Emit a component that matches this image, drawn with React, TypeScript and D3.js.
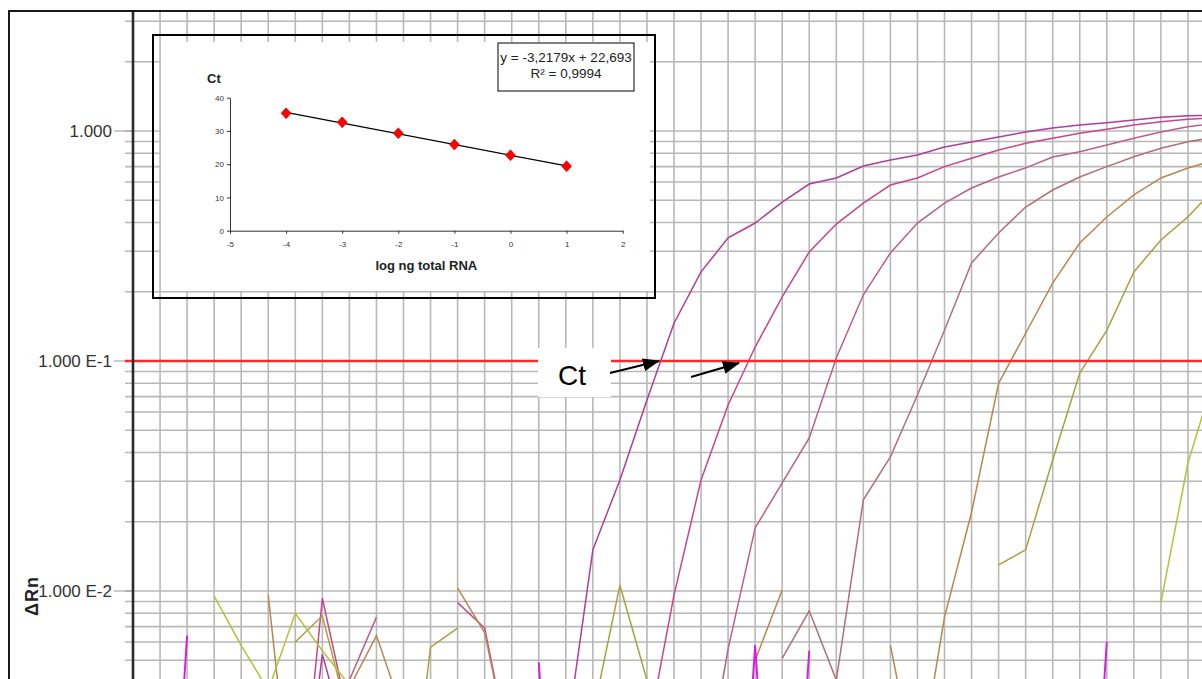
import React, { useEffect, useRef } from "react";
import * as d3 from "d3";

const W = 1202;
const H = 679;
const _ = null;

// Delta Rn per cycle (array index = cycle 0..40); null = not plotted (value <= 0 on log axis)
const run1 = [_, _, _, _, _, _, 0.0006, 0.0053, 0.002, _, _, _, _, _, _, _, 0.0022, 0.0151, 0.0304, 0.0677, 0.146, 0.244, 0.343, 0.398, 0.491, 0.588, 0.625, 0.704, 0.748, 0.787, 0.852, 0.896, 0.942, 0.99, 1.03, 1.062, 1.087, 1.117, 1.147, 1.166, 1.17];
const run2 = [_, _, _, _, _, _, 0.0006, 0.0093, 0.0027, _, _, _, 0.0089, 0.0069, 0.0018, _, _, _, _, 0.0023, 0.0096, 0.0304, 0.0644, 0.115, 0.19, 0.298, 0.394, 0.486, 0.582, 0.625, 0.7, 0.761, 0.827, 0.884, 0.93, 0.977, 1.017, 1.062, 1.098, 1.124, 1.14];
const run3 = [_, _, _, _, _, _, _, _, 0.0041, 0.0077, _, _, _, _, _, _, _, _, _, _, _, 0.0012, 0.0056, 0.0188, 0.0295, 0.0463, 0.103, 0.194, 0.295, 0.398, 0.486, 0.565, 0.631, 0.691, 0.771, 0.813, 0.869, 0.93, 0.99, 1.044, 1.08];
const run4 = [_, _, _, _, _, _, _, _, _, _, _, _, _, _, _, _, _, _, _, _, _, _, _, _, 0.0051, 0.0082, 0.0041, 0.0249, 0.0383, 0.0711, 0.136, 0.267, 0.36, 0.467, 0.554, 0.631, 0.7, 0.773, 0.841, 0.898, 0.94];
const run5 = [_, _, _, _, _, 0.0096, 0.0008, _, 0.0038, 0.0064, 0.0029, _, 0.0103, 0.0066, 0.0018, _, _, _, _, _, _, _, _, 0.005, 0.0101, _, _, _, 0.0058, 0.0015, 0.0077, 0.022, 0.08, 0.132, 0.218, 0.326, 0.423, 0.527, 0.625, 0.69, 0.748];
const run6 = [_, _, _, _, _, _, 0.006, 0.0078, 0.0027, _, 0.0006, 0.0057, 0.0069, _, _, _, _, 0.0029, 0.0106, 0.0041, 0.002, _, _, _, _, _, _, _, _, _, _, _, 0.013, 0.0151, 0.0371, 0.0887, 0.136, 0.244, 0.336, 0.423, 0.565];
const run7 = [_, _, _, 0.0095, 0.0058, 0.0037, 0.008, 0.0055, 0.0039, _, _, _, _, _, _, _, _, _, _, _, _, _, _, _, _, _, _, _, _, _, _, _, _, _, _, _, _, _, 0.0089, 0.036, 0.0877];
const runNtc = [_, 0.0001, 0.0064, _, _, _, _, _, _, _, _, _, _, _, _, 0.0049, 0.0001, _, _, _, _, _, 0.0001, 0.0058, 0.0001, 0.0055, _, _, _, _, _, _, _, _, _, 0.0001, 0.006, _, _, _, _];

const runs = [run1, run2, run3, run4, run5, run6, run7, runNtc];
const runColors = ["#b03c9c", "#c6468a", "#bc5e8c", "#b07076", "#ba8650", "#a8a23c", "#b2c23a", "#dc18e0"];

const yTickValues = [1, 0.1, 0.01];
const yTickLabels = ["1.000", "1.000 E-1", "1.000 E-2"];
const threshold = 0.1;

// inset: standard curve
const logAmount = [-4, -3, -2, -1, 0, 1];
const ctValues = [35.3, 32.6, 29.3, 25.9, 22.7, 19.4];
const slope = -3.2179;
const intercept = 22.693;
const insetXTicks = [-5, -4, -3, -2, -1, 0, 1, 2];
const insetYTicks = [0, 10, 20, 30, 40];

const font = "'Liberation Sans', Arial, sans-serif";

const App = () => {
  const svgRef = useRef(null);

  useEffect(() => {
    const svg = d3.select(svgRef.current);
    svg.selectAll("*").remove();

    const top = 11;
    const axisX = 133;
    const x = d3.scaleLinear().domain([0, 40]).range([axisX, 1215]);
    const y = d3.scaleLog().domain([0.001, 10]).range([821, -99]);

    const defs = svg.append("defs");
    defs
      .append("clipPath")
      .attr("id", "plotClip")
      .append("rect")
      .attr("x", axisX)
      .attr("y", top)
      .attr("width", W - axisX)
      .attr("height", H - top);
    defs
      .append("marker")
      .attr("id", "arrowHead")
      .attr("markerUnits", "userSpaceOnUse")
      .attr("markerWidth", 17)
      .attr("markerHeight", 13)
      .attr("refX", 16)
      .attr("refY", 6.5)
      .attr("orient", "auto")
      .append("path")
      .attr("d", "M0,0 L17,6.5 L0,13 Z")
      .attr("fill", "#000");

    // grid
    const hLines = [];
    for (let e = -3; e <= 0; e++) {
      for (let m = 1; m <= 9; m++) {
        const v = m * Math.pow(10, e);
        if (y(v) >= top && y(v) <= H) hLines.push(v);
      }
    }
    const grid = svg.append("g").attr("stroke", "#b8b8b8").attr("stroke-width", 1.6);
    grid
      .selectAll("line.v")
      .data(d3.range(1, 41))
      .enter()
      .append("line")
      .attr("x1", (d) => x(d))
      .attr("x2", (d) => x(d))
      .attr("y1", top)
      .attr("y2", H);
    grid
      .selectAll("line.h")
      .data(hLines)
      .enter()
      .append("line")
      .attr("x1", axisX - 8)
      .attr("x2", W)
      .attr("y1", (d) => y(d))
      .attr("y2", (d) => y(d));

    // labelled ticks
    svg
      .selectAll("line.major")
      .data(yTickValues)
      .enter()
      .append("line")
      .attr("x1", 114)
      .attr("x2", axisX)
      .attr("y1", (d) => y(d))
      .attr("y2", (d) => y(d))
      .attr("stroke", "#999")
      .attr("stroke-width", 1);
    svg
      .selectAll("text.ylab")
      .data(yTickValues)
      .enter()
      .append("text")
      .attr("x", 112)
      .attr("y", (d) => y(d))
      .attr("dy", "0.36em")
      .attr("text-anchor", "end")
      .attr("font-family", font)
      .attr("font-size", 17)
      .attr("fill", "#333")
      .text((d, i) => yTickLabels[i]);

    svg
      .append("text")
      .attr("transform", "translate(38,596) rotate(-90)")
      .attr("text-anchor", "middle")
      .attr("font-family", font)
      .attr("font-size", 18)
      .attr("font-weight", "bold")
      .attr("letter-spacing", 1)
      .attr("fill", "#222")
      .text("ΔRn");

    // amplification curves
    const line = d3
      .line()
      .defined((d) => d != null && d > 0)
      .x((d, i) => x(i))
      .y((d) => y(d));
    svg
      .append("g")
      .attr("clip-path", "url(#plotClip)")
      .selectAll("path")
      .data(runs)
      .enter()
      .append("path")
      .attr("d", (d) => line(d))
      .attr("fill", "none")
      .attr("stroke", (d, i) => runColors[i])
      .attr("stroke-width", (d, i) => (i === runs.length - 1 ? 1.9 : 1.5));

    // threshold
    svg
      .append("line")
      .attr("x1", axisX - 8)
      .attr("x2", W)
      .attr("y1", y(threshold))
      .attr("y2", y(threshold))
      .attr("stroke", "#ff2828")
      .attr("stroke-width", 2.7);

    // axis line and frame
    svg
      .append("line")
      .attr("x1", axisX)
      .attr("x2", axisX)
      .attr("y1", top)
      .attr("y2", H)
      .attr("stroke", "#2a2a2a")
      .attr("stroke-width", 2.6);
    svg
      .append("rect")
      .attr("x", 9)
      .attr("y", top)
      .attr("width", 1300)
      .attr("height", 800)
      .attr("fill", "none")
      .attr("stroke", "#000")
      .attr("stroke-width", 1.8);

    // Ct annotation
    svg.append("rect").attr("x", 538).attr("y", 348).attr("width", 73).attr("height", 49).attr("fill", "#fff");
    svg
      .append("text")
      .attr("x", 572)
      .attr("y", 385)
      .attr("text-anchor", "middle")
      .attr("font-family", font)
      .attr("font-size", 28)
      .attr("fill", "#000")
      .text("Ct");
    const arrows = [
      [610, 373, 659, 361],
      [691, 377, 739, 363],
    ];
    svg
      .selectAll("line.arrow")
      .data(arrows)
      .enter()
      .append("line")
      .attr("x1", (d) => d[0])
      .attr("y1", (d) => d[1])
      .attr("x2", (d) => d[2])
      .attr("y2", (d) => d[3])
      .attr("stroke", "#000")
      .attr("stroke-width", 2)
      .attr("marker-end", "url(#arrowHead)");

    // inset chart
    const inset = svg.append("g");
    inset.append("rect").attr("x", 161).attr("y", 42).attr("width", 489).attr("height", 249).attr("fill", "#fff");
    inset
      .append("rect")
      .attr("x", 153)
      .attr("y", 35)
      .attr("width", 502)
      .attr("height", 263)
      .attr("fill", "none")
      .attr("stroke", "#000")
      .attr("stroke-width", 2);

    const ix = d3.scaleLinear().domain([-5, 2]).range([230, 622.7]);
    const iy = d3.scaleLinear().domain([0, 40]).range([230.7, 97.7]);

    const yAxis = inset
      .append("g")
      .attr("transform", `translate(${ix(-5)},0)`)
      .call(d3.axisLeft(iy).tickValues(insetYTicks).tickSize(3).tickSizeOuter(0).tickPadding(3).tickFormat((d) => String(d)));
    const xAxis = inset
      .append("g")
      .attr("transform", `translate(0,${iy(0)})`)
      .call(d3.axisBottom(ix).tickValues(insetXTicks).tickSize(3).tickSizeOuter(0).tickPadding(8).tickFormat((d) => String(d)));
    [yAxis, xAxis].forEach((g) => {
      g.selectAll("path").attr("stroke", "#333");
      g.selectAll("line").attr("stroke", "#333");
      g.selectAll("text").attr("font-family", font).attr("font-size", 8).attr("fill", "#333");
    });

    inset
      .append("path")
      .attr(
        "d",
        d3
          .line()
          .x((d) => ix(d))
          .y((d) => iy(slope * d + intercept))(d3.extent(logAmount))
      )
      .attr("stroke", "#000")
      .attr("stroke-width", 1.2)
      .attr("fill", "none");

    inset
      .selectAll("path.pt")
      .data(logAmount)
      .enter()
      .append("path")
      .attr("d", (d, i) => {
        const px = ix(d);
        const py = iy(ctValues[i]);
        return `M${px},${py - 5.5} L${px + 5},${py} L${px},${py + 5.5} L${px - 5},${py} Z`;
      })
      .attr("fill", "#ff0000")
      .attr("stroke", "#d00000")
      .attr("stroke-width", 0.6);

    inset
      .append("text")
      .attr("x", 207)
      .attr("y", 83)
      .attr("font-family", font)
      .attr("font-size", 13)
      .attr("font-weight", "bold")
      .attr("fill", "#222")
      .text("Ct");
    inset
      .append("text")
      .attr("x", (ix(-5) + ix(2)) / 2)
      .attr("y", 270)
      .attr("text-anchor", "middle")
      .attr("font-family", font)
      .attr("font-size", 13)
      .attr("font-weight", "bold")
      .attr("fill", "#222")
      .text("log ng total RNA");

    inset
      .append("rect")
      .attr("x", 498)
      .attr("y", 43)
      .attr("width", 136)
      .attr("height", 48)
      .attr("fill", "#fff")
      .attr("stroke", "#000")
      .attr("stroke-width", 1);
    const eq = inset
      .append("text")
      .attr("text-anchor", "middle")
      .attr("font-family", font)
      .attr("font-size", 13.5)
      .attr("fill", "#222");
    eq.append("tspan").attr("x", 566).attr("y", 61.5).text(`y = ${String(slope).replace(".", ",")}x + ${String(intercept).replace(".", ",")}`);
    eq.append("tspan").attr("x", 566).attr("y", 78).text("R² = 0,9994");
  }, []);

  return (
    <svg
      ref={svgRef}
      width={W}
      height={H}
      style={{ position: "absolute", left: 0, top: 0, background: "#fff" }}
    ></svg>
  );
};

export default App;
